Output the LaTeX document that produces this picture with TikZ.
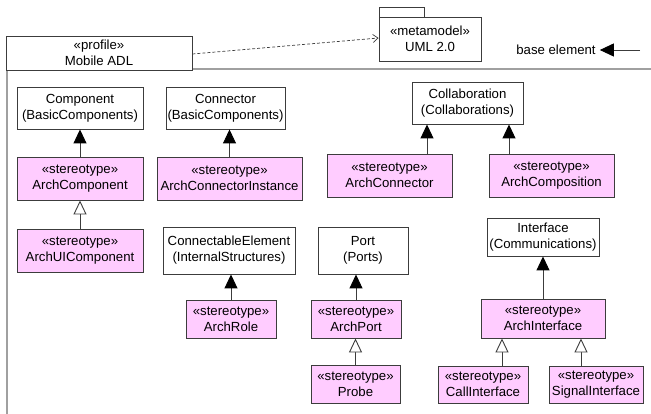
\documentclass[tikz,border=0pt]{standalone}
\usepackage{fontspec}
\setmainfont{Liberation Sans}
\usetikzlibrary{arrows.meta}
\definecolor{stereo}{HTML}{FFCCFF}
\definecolor{edge}{HTML}{3C3C3C}
\definecolor{framegray}{HTML}{A0A0A0}
\tikzset{
  base/.style={draw=edge, line width=0.9pt, fill=white, align=center, inner sep=0pt,
    font=\fontsize{13.2}{16}\selectfont},
  stereobox/.style={base, fill=stereo},
  ext/.style={draw=edge, line width=0.9pt,
    -{Triangle[length=14pt,width=13pt,color=black,fill=black]}},
  gen/.style={draw=edge, line width=0.9pt,
    -{Triangle[open,length=14pt,width=13pt,fill=white]}},
  dep/.style={draw=edge, line width=0.7pt, dash pattern=on 3pt off 2pt,
    -{Straight Barb[length=5pt,width=8pt]}},
}
\begin{document}
\begin{tikzpicture}[x=1pt,y=-1pt]
\useasboundingbox (0,0) rectangle (651,414);

% profile frame
\draw[framegray, line width=2pt] (7,414) -- (7,69) -- (651,69);
\node[base, minimum width=186pt, minimum height=34pt] (profile) at (99,53)
  {«profile»\\Mobile ADL};

% metamodel package
\draw[edge, line width=0.9pt, fill=white] (379,17) rectangle (424,7);
\node[base, minimum width=102pt, minimum height=44pt] (uml) at (430,39)
  {«metamodel»\\UML 2.0};
\draw[dep] ([yshift=-1pt]profile.east) -- ([yshift=1pt]uml.west);

% legend
\node[font=\fontsize{13.2}{16}\selectfont, inner sep=0pt] (legend) at (556,50) {base element};
\coordinate (legendend) at (640,50);
\draw[ext] (legendend) -- ([xshift=4pt]legend.east);

% base metaclasses
\node[base, minimum width=126pt, minimum height=42pt] (comp) at (80,108)
  {Component\\(BasicComponents)};
\node[base, minimum width=119pt, minimum height=42pt] (conn) at (225.5,108)
  {Connector\\(BasicComponents)};
\node[base, minimum width=111pt, minimum height=42pt] (collab) at (467.5,103)
  {Collaboration\\(Collaborations)};
\node[base, minimum width=132pt, minimum height=47pt] (connel) at (229,250.5)
  {ConnectableElement\\(InternalStructures)};
\node[base, minimum width=90pt, minimum height=47pt] (port) at (363,250.5)
  {Port\\(Ports)};
\node[base, minimum width=112pt, minimum height=38pt] (iface) at (543,237)
  {Interface\\(Communications)};

% stereotypes
\node[stereobox, minimum width=126pt, minimum height=43pt] (archcomp) at (80,178.5)
  {«stereotype»\\ArchComponent};
\node[stereobox, minimum width=126pt, minimum height=43pt] (archui) at (80,250.5)
  {«stereotype»\\ArchUIComponent};
\node[stereobox, minimum width=145pt, minimum height=43pt] (archconninst) at (229.5,178.5)
  {«stereotype»\\ArchConnectorInstance};
\node[stereobox, minimum width=90pt, minimum height=38pt] (archrole) at (231,319)
  {«stereotype»\\ArchRole};
\node[stereobox, minimum width=125pt, minimum height=43pt] (archconn) at (389.5,175.5)
  {«stereotype»\\ArchConnector};
\node[stereobox, minimum width=125pt, minimum height=43pt] (archcompo) at (551.5,175.5)
  {«stereotype»\\ArchComposition};
\node[stereobox, minimum width=90pt, minimum height=38pt] (archport) at (356,319)
  {«stereotype»\\ArchPort};
\node[stereobox, minimum width=89pt, minimum height=38pt] (probe) at (355.5,384)
  {«stereotype»\\Probe};
\node[stereobox, minimum width=124pt, minimum height=39pt] (archiface) at (543,318.5)
  {«stereotype»\\ArchInterface};
\node[stereobox, minimum width=90pt, minimum height=37pt] (calliface) at (483,384.5)
  {«stereotype»\\CallInterface};
\node[stereobox, minimum width=94pt, minimum height=37pt] (sigiface) at (596,384.5)
  {«stereotype»\\SignalInterface};

% extensions
\draw[ext] (archcomp.north) -- (archcomp.north |- comp.south);
\draw[ext] (archconninst.north) -- (archconninst.north |- conn.south);
\draw[ext] (archrole.north) -- (archrole.north |- connel.south);
\draw[ext] ([xshift=37.5pt]archconn.north) -- ([xshift=37.5pt]archconn.north |- collab.south);
\draw[ext] ([xshift=-42.5pt]archcompo.north) -- ([xshift=-42.5pt]archcompo.north |- collab.south);
\draw[ext] (archport.north) -- (archport.north |- port.south);
\draw[ext] (archiface.north) -- (archiface.north |- iface.south);

% generalisations
\draw[gen] (archui.north) -- (archui.north |- archcomp.south);
\draw[gen] (probe.north) -- (probe.north |- archport.south);
\draw[gen] ([xshift=19pt]calliface.north) -- ([xshift=19pt]calliface.north |- archiface.south);
\draw[gen] ([xshift=-15pt]sigiface.north) -- ([xshift=-15pt]sigiface.north |- archiface.south);
\end{tikzpicture}
\end{document}
